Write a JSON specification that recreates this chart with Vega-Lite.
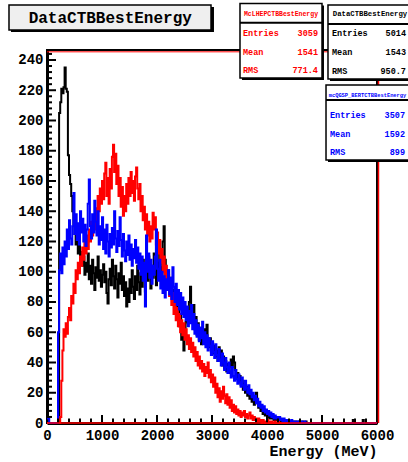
{
"$schema": "https://vega.github.io/schema/vega-lite/v6.json",
"width": 330, "height": 373,
"autosize": {"type": "none"},
"padding": {"left": 47, "top": 50, "right": 31, "bottom": 39},
"background": "white",
"config": {"view": {"stroke": "black", "strokeWidth": 2}, "font": "Liberation Mono"},
"resolve": {"axis": {"x": "independent", "y": "independent"}},
"data": {"values": [
{"e":0,"k":0,"r":0,"b":4},{"e":20,"k":0,"r":0,"b":3},{"e":40,"k":0,"r":0,"b":0},{"e":60,"k":0,"r":0,"b":0},{"e":80,"k":0,"r":0,"b":0},{"e":100,"k":0,"r":0,"b":0},{"e":120,"k":0,"r":0,"b":0},{"e":140,"k":0,"r":0,"b":0},{"e":160,"k":0,"r":0,"b":0},{"e":180,"k":0,"r":0,"b":0},
{"e":200,"k":0,"r":0,"b":60},{"e":220,"k":205,"r":0,"b":101},{"e":240,"k":212,"r":4,"b":112},{"e":260,"k":221,"r":28,"b":99},{"e":280,"k":218,"r":48,"b":116},{"e":300,"k":222,"r":62,"b":105},{"e":320,"k":235,"r":57,"b":120},{"e":340,"k":221,"r":66,"b":110},{"e":360,"k":219,"r":59,"b":128},{"e":380,"k":177,"r":70,"b":115},
{"e":400,"k":164,"r":76,"b":134},{"e":420,"k":158,"r":68,"b":122},{"e":440,"k":150,"r":84,"b":118},{"e":460,"k":140,"r":79,"b":130},{"e":480,"k":131,"r":92,"b":152},{"e":500,"k":125,"r":86,"b":125},{"e":520,"k":118,"r":101,"b":138},{"e":540,"k":122,"r":95,"b":121},{"e":560,"k":112,"r":106,"b":132},{"e":580,"k":117,"r":99,"b":118},
{"e":600,"k":108,"r":110,"b":140},{"e":620,"k":113,"r":104,"b":126},{"e":640,"k":104,"r":116,"b":135},{"e":660,"k":110,"r":108,"b":120},{"e":680,"k":98,"r":120,"b":131},{"e":700,"k":106,"r":112,"b":117},{"e":720,"k":100,"r":124,"b":128},{"e":740,"k":112,"r":115,"b":145},{"e":760,"k":95,"r":128,"b":161},{"e":780,"k":104,"r":120,"b":130},
{"e":800,"k":92,"r":133,"b":122},{"e":820,"k":108,"r":124,"b":138},{"e":840,"k":99,"r":137,"b":126},{"e":860,"k":88,"r":128,"b":147},{"e":880,"k":103,"r":142,"b":133},{"e":900,"k":96,"r":133,"b":124},{"e":920,"k":110,"r":150,"b":140},{"e":940,"k":94,"r":140,"b":118},{"e":960,"k":101,"r":155,"b":130},{"e":980,"k":90,"r":145,"b":121},
{"e":1000,"k":98,"r":160,"b":136},{"e":1020,"k":105,"r":148,"b":115},{"e":1040,"k":93,"r":165,"b":128},{"e":1060,"k":100,"r":172,"b":112},{"e":1080,"k":86,"r":150,"b":131},{"e":1100,"k":79,"r":162,"b":120},{"e":1120,"k":95,"r":145,"b":110},{"e":1140,"k":102,"r":168,"b":125},{"e":1160,"k":91,"r":155,"b":116},{"e":1180,"k":108,"r":176,"b":129},
{"e":1200,"k":97,"r":184,"b":118},{"e":1220,"k":89,"r":166,"b":140},{"e":1240,"k":104,"r":178,"b":122},{"e":1260,"k":95,"r":158,"b":113},{"e":1280,"k":83,"r":170,"b":127},{"e":1300,"k":99,"r":150,"b":117},{"e":1320,"k":92,"r":162,"b":136},{"e":1340,"k":106,"r":143,"b":121},{"e":1360,"k":88,"r":156,"b":110},{"e":1380,"k":97,"r":137,"b":125},
{"e":1400,"k":84,"r":150,"b":114},{"e":1420,"k":93,"r":140,"b":107},{"e":1440,"k":77,"r":158,"b":120},{"e":1460,"k":89,"r":145,"b":111},{"e":1480,"k":80,"r":162,"b":124},{"e":1500,"k":95,"r":150,"b":108},{"e":1520,"k":86,"r":166,"b":118},{"e":1540,"k":101,"r":152,"b":104},{"e":1560,"k":90,"r":160,"b":115},{"e":1580,"k":82,"r":147,"b":109},
{"e":1600,"k":97,"r":163,"b":121},{"e":1620,"k":88,"r":169,"b":106},{"e":1640,"k":104,"r":155,"b":116},{"e":1660,"k":93,"r":148,"b":102},{"e":1680,"k":85,"r":158,"b":112},{"e":1700,"k":99,"r":140,"b":98},{"e":1720,"k":90,"r":150,"b":110},{"e":1740,"k":108,"r":134,"b":94},{"e":1760,"k":96,"r":143,"b":106},{"e":1780,"k":87,"r":128,"b":77},
{"e":1800,"k":102,"r":138,"b":124},{"e":1820,"k":94,"r":124,"b":100},{"e":1840,"k":110,"r":133,"b":112},{"e":1860,"k":98,"r":120,"b":96},{"e":1880,"k":89,"r":130,"b":108},{"e":1900,"k":104,"r":122,"b":92},{"e":1920,"k":96,"r":139,"b":104},{"e":1940,"k":112,"r":128,"b":98},{"e":1960,"k":100,"r":136,"b":110},{"e":1980,"k":91,"r":118,"b":128},
{"e":2000,"k":106,"r":126,"b":102},{"e":2020,"k":97,"r":112,"b":94},{"e":2040,"k":115,"r":121,"b":108},{"e":2060,"k":103,"r":106,"b":89},{"e":2080,"k":94,"r":115,"b":100},{"e":2100,"k":120,"r":100,"b":86},{"e":2120,"k":130,"r":110,"b":97},{"e":2140,"k":108,"r":95,"b":83},{"e":2160,"k":98,"r":104,"b":95},{"e":2180,"k":88,"r":90,"b":88},
{"e":2200,"k":101,"r":98,"b":101},{"e":2220,"k":92,"r":84,"b":85},{"e":2240,"k":84,"r":92,"b":96},{"e":2260,"k":96,"r":78,"b":82},{"e":2280,"k":79,"r":86,"b":103},{"e":2300,"k":88,"r":72,"b":90},{"e":2320,"k":75,"r":80,"b":80},{"e":2340,"k":84,"r":68,"b":92},{"e":2360,"k":70,"r":76,"b":78},{"e":2380,"k":78,"r":64,"b":88},
{"e":2400,"k":64,"r":72,"b":75},{"e":2420,"k":72,"r":60,"b":86},{"e":2440,"k":55,"r":68,"b":72},{"e":2460,"k":62,"r":58,"b":83},{"e":2480,"k":48,"r":66,"b":70},{"e":2500,"k":60,"r":55,"b":80},{"e":2520,"k":67,"r":62,"b":68},{"e":2540,"k":74,"r":52,"b":77},{"e":2560,"k":66,"r":58,"b":64},{"e":2580,"k":80,"r":49,"b":74},
{"e":2600,"k":90,"r":56,"b":66},{"e":2620,"k":74,"r":47,"b":78},{"e":2640,"k":68,"r":53,"b":62},{"e":2660,"k":78,"r":44,"b":72},{"e":2680,"k":62,"r":50,"b":59},{"e":2700,"k":70,"r":41,"b":68},{"e":2720,"k":58,"r":47,"b":57},{"e":2740,"k":66,"r":38,"b":65},{"e":2760,"k":55,"r":44,"b":54},{"e":2780,"k":63,"r":36,"b":63},
{"e":2800,"k":52,"r":41,"b":56},{"e":2820,"k":60,"r":34,"b":67},{"e":2840,"k":54,"r":39,"b":52},{"e":2860,"k":62,"r":31,"b":60},{"e":2880,"k":57,"r":37,"b":50},{"e":2900,"k":65,"r":33,"b":58},{"e":2920,"k":55,"r":40,"b":48},{"e":2940,"k":50,"r":30,"b":56},{"e":2960,"k":56,"r":35,"b":51},{"e":2980,"k":47,"r":27,"b":45},
{"e":3000,"k":53,"r":32,"b":54},{"e":3020,"k":46,"r":24,"b":47},{"e":3040,"k":51,"r":30,"b":43},{"e":3060,"k":44,"r":20,"b":52},{"e":3080,"k":48,"r":26,"b":45},{"e":3100,"k":41,"r":17,"b":41},{"e":3120,"k":50,"r":23,"b":49},{"e":3140,"k":43,"r":14,"b":42},{"e":3160,"k":48,"r":21,"b":38},{"e":3180,"k":38,"r":16,"b":46},
{"e":3200,"k":44,"r":24,"b":40},{"e":3220,"k":36,"r":18,"b":35},{"e":3240,"k":41,"r":13,"b":43},{"e":3260,"k":34,"r":19,"b":37},{"e":3280,"k":39,"r":12,"b":33},{"e":3300,"k":33,"r":17,"b":40},{"e":3320,"k":38,"r":10,"b":34},{"e":3340,"k":42,"r":15,"b":30},{"e":3360,"k":37,"r":8,"b":37},{"e":3380,"k":44,"r":12,"b":31},
{"e":3400,"k":40,"r":7,"b":28},{"e":3420,"k":35,"r":11,"b":35},{"e":3440,"k":30,"r":6,"b":29},{"e":3460,"k":33,"r":9,"b":26},{"e":3480,"k":27,"r":5,"b":32},{"e":3500,"k":31,"r":8,"b":27},{"e":3520,"k":25,"r":4,"b":24},{"e":3540,"k":28,"r":7,"b":30},{"e":3560,"k":22,"r":5,"b":25},{"e":3580,"k":26,"r":8,"b":22},
{"e":3600,"k":20,"r":4,"b":28},{"e":3620,"k":24,"r":6,"b":23},{"e":3640,"k":18,"r":3,"b":20},{"e":3660,"k":21,"r":5,"b":25},{"e":3680,"k":16,"r":7,"b":19},{"e":3700,"k":19,"r":3,"b":22},{"e":3720,"k":14,"r":5,"b":17},{"e":3740,"k":17,"r":2,"b":20},{"e":3760,"k":12,"r":4,"b":15},{"e":3780,"k":15,"r":2,"b":18},
{"e":3800,"k":20,"r":3,"b":13},{"e":3820,"k":13,"r":1,"b":16},{"e":3840,"k":10,"r":3,"b":11},{"e":3860,"k":12,"r":1,"b":14},{"e":3880,"k":8,"r":2,"b":10},{"e":3900,"k":10,"r":0,"b":12},{"e":3920,"k":6,"r":2,"b":8},{"e":3940,"k":9,"r":1,"b":11},{"e":3960,"k":5,"r":0,"b":7},{"e":3980,"k":8,"r":1,"b":9},
{"e":4000,"k":4,"r":2,"b":6},{"e":4020,"k":7,"r":0,"b":8},{"e":4040,"k":3,"r":1,"b":5},{"e":4060,"k":6,"r":0,"b":7},{"e":4080,"k":3,"r":1,"b":4},{"e":4100,"k":5,"r":0,"b":6},{"e":4120,"k":2,"r":0,"b":3},{"e":4140,"k":4,"r":1,"b":5},{"e":4160,"k":2,"r":0,"b":3},{"e":4180,"k":3,"r":0,"b":4},
{"e":4200,"k":1,"r":1,"b":2},{"e":4220,"k":3,"r":0,"b":4},{"e":4240,"k":1,"r":0,"b":2},{"e":4260,"k":2,"r":0,"b":3},{"e":4280,"k":1,"r":0,"b":1},{"e":4300,"k":2,"r":0,"b":3},{"e":4320,"k":0,"r":0,"b":1},{"e":4340,"k":1,"r":0,"b":2},{"e":4360,"k":2,"r":0,"b":1},{"e":4380,"k":0,"r":0,"b":2},
{"e":4400,"k":1,"r":0,"b":0},{"e":4420,"k":0,"r":0,"b":1},{"e":4440,"k":1,"r":0,"b":2},{"e":4460,"k":0,"r":0,"b":0},{"e":4480,"k":1,"r":0,"b":1},{"e":4500,"k":0,"r":0,"b":1},{"e":4520,"k":1,"r":0,"b":0},{"e":4540,"k":0,"r":0,"b":1},{"e":4560,"k":0,"r":0,"b":0},{"e":4580,"k":1,"r":0,"b":1},
{"e":4600,"k":0,"r":0,"b":0},{"e":4620,"k":0,"r":0,"b":1},{"e":4640,"k":1,"r":0,"b":0},{"e":4660,"k":0,"r":0,"b":0},{"e":4680,"k":0,"r":0,"b":1},{"e":4700,"k":1,"r":0,"b":0},{"e":4720,"k":0,"r":0,"b":0},
{"e":5560,"k":2,"r":0,"b":0},{"e":5580,"k":0,"r":0,"b":0},{"e":5740,"k":2,"r":0,"b":0},{"e":5760,"k":0,"r":0,"b":0},{"e":6000,"k":0,"r":0,"b":0}
]},
"layer": [
{"mark": {"type": "line", "interpolate": "step-after", "color": "black", "strokeWidth": 2},
 "encoding": {
  "x": {"field": "e", "type": "quantitative", "scale": {"domain": [0, 6000], "nice": false, "zero": false},
   "axis": {"orient": "bottom", "title": "Energy (MeV)", "titleAnchor": "end", "titleAlign": "right", "titleFont": "Liberation Mono", "titleFontSize": 15, "titleFontWeight": "bold", "titleColor": "black", "titlePadding": 1,
    "values": [0,1000,2000,3000,4000,5000,6000], "format": "d",
    "labelFont": "Liberation Mono", "labelFontSize": 14, "labelFontWeight": "bold", "labelColor": "black", "labelPadding": 5, "labelFlush": false, "labelOverlap": false,
    "ticks": false, "domainColor": "black", "domainWidth": 3, "grid": false}},
  "y": {"field": "k", "type": "quantitative", "scale": {"domain": [0, 246.6], "nice": false, "zero": false},
   "axis": {"orient": "left", "title": null,
    "values": [0,20,40,60,80,100,120,140,160,180,200,220,240], "format": "d",
    "labelFont": "Liberation Mono", "labelFontSize": 14, "labelFontWeight": "bold", "labelColor": "black", "labelPadding": 4, "labelFlush": false, "labelOverlap": false,
    "ticks": false, "domainColor": "black", "domainWidth": 3, "grid": false}}
 }},
{"mark": {"type": "line", "interpolate": "step-after", "color": "#ff0000", "strokeWidth": 2},
 "encoding": {"x": {"field": "e", "type": "quantitative", "axis": null}, "y": {"field": "r", "type": "quantitative", "axis": null}}},
{"mark": {"type": "line", "interpolate": "step-after", "color": "#0000ff", "strokeWidth": 2},
 "encoding": {"x": {"field": "e", "type": "quantitative", "axis": null}, "y": {"field": "b", "type": "quantitative", "axis": null}}},
{"data": {"values": [{"v":20},{"v":40},{"v":60},{"v":80},{"v":100},{"v":120},{"v":140},{"v":160},{"v":180},{"v":200},{"v":220},{"v":240}]},
 "mark": {"type": "rule", "stroke": "black", "strokeWidth": 2},
 "encoding": {"y": {"field": "v", "type": "quantitative", "axis": null}, "x": {"datum": 0, "axis": null}, "x2": {"datum": 164}}},
{"data": {"values": [{"v":4},{"v":8},{"v":12},{"v":16},{"v":24},{"v":28},{"v":32},{"v":36},{"v":44},{"v":48},{"v":52},{"v":56},{"v":64},{"v":68},{"v":72},{"v":76},{"v":84},{"v":88},{"v":92},{"v":96},{"v":104},{"v":108},{"v":112},{"v":116},{"v":124},{"v":128},{"v":132},{"v":136},{"v":144},{"v":148},{"v":152},{"v":156},{"v":164},{"v":168},{"v":172},{"v":176},{"v":184},{"v":188},{"v":192},{"v":196},{"v":204},{"v":208},{"v":212},{"v":216},{"v":224},{"v":228},{"v":232},{"v":236},{"v":244}]},
 "mark": {"type": "rule", "stroke": "black", "strokeWidth": 2},
 "encoding": {"y": {"field": "v", "type": "quantitative", "axis": null}, "x": {"datum": 0, "axis": null}, "x2": {"datum": 91}}},
{"data": {"values": [{"v":1000},{"v":2000},{"v":3000},{"v":4000},{"v":5000}]},
 "mark": {"type": "rule", "stroke": "black", "strokeWidth": 2},
 "encoding": {"x": {"field": "v", "type": "quantitative", "axis": null}, "y": {"datum": 0, "axis": null}, "y2": {"datum": 5.3}}},
{"data": {"values": [{"v":200},{"v":400},{"v":600},{"v":800},{"v":1200},{"v":1400},{"v":1600},{"v":1800},{"v":2200},{"v":2400},{"v":2600},{"v":2800},{"v":3200},{"v":3400},{"v":3600},{"v":3800},{"v":4200},{"v":4400},{"v":4600},{"v":4800},{"v":5200},{"v":5400},{"v":5600},{"v":5800}]},
 "mark": {"type": "rule", "stroke": "black", "strokeWidth": 2},
 "encoding": {"x": {"field": "v", "type": "quantitative", "axis": null}, "y": {"datum": 0, "axis": null}, "y2": {"datum": 3.0}}},
{"data": {"values": [{}]}, "mark": {"type": "rule", "color": "#ff0000", "strokeWidth": 1.5},
 "encoding": {"x": {"datum": 0, "axis": null}, "x2": {"datum": 6000}, "y": {"datum": 0, "axis": null}}},
{"data": {"values": [{}]}, "mark": {"type": "rule", "color": "#ff0000", "strokeWidth": 1},
 "encoding": {"x": {"datum": 0, "axis": null}, "x2": {"datum": 6000}, "y": {"datum": 245.4, "axis": null}}},
{"data": {"values": [{}]}, "mark": {"type": "rule", "color": "#ff0000", "strokeWidth": 1.5},
 "encoding": {"x": {"datum": 6027, "axis": null}, "y": {"datum": 0, "axis": null}, "y2": {"datum": 246.6}}},

{"data": {"values": [{}]}, "mark": {"type": "rect", "color": "black"},
 "encoding": {"x": {"datum": -655, "axis": null}, "x2": {"datum": 3036}, "y": {"datum": 275.0, "axis": null}, "y2": {"datum": 258.5}}},
{"data": {"values": [{}]}, "mark": {"type": "rect", "fill": "#efefef", "stroke": "black", "strokeWidth": 1.5},
 "encoding": {"x": {"datum": -691, "axis": null}, "x2": {"datum": 2982}, "y": {"datum": 276.3, "axis": null}, "y2": {"datum": 259.8}}},
{"data": {"values": [{}]}, "mark": {"type": "text", "text": "DataCTBBestEnergy", "font": "Liberation Mono", "fontSize": 16, "fontWeight": "bold", "color": "black", "align": "center", "baseline": "middle"},
 "encoding": {"x": {"datum": 1150, "axis": null}, "y": {"datum": 267.8, "axis": null}}},

{"data": {"values": [{}]}, "mark": {"type": "rect", "color": "black"},
 "encoding": {"x": {"datum": 3545, "axis": null}, "x2": {"datum": 5036}, "y": {"datum": 276.0, "axis": null}, "y2": {"datum": 226.8}}},
{"data": {"values": [{}]}, "mark": {"type": "rect", "fill": "white", "stroke": "black", "strokeWidth": 1.5},
 "encoding": {"x": {"datum": 3509, "axis": null}, "x2": {"datum": 5000}, "y": {"datum": 277.3, "axis": null}, "y2": {"datum": 228.1}}},
{"data": {"values": [{}]}, "mark": {"type": "rule", "color": "black", "strokeWidth": 2},
 "encoding": {"x": {"datum": 3509, "axis": null}, "x2": {"datum": 5000}, "y": {"datum": 264.6, "axis": null}}},
{"data": {"values": [{}]}, "mark": {"type": "text", "text": "McLHEPCTBBestEnergy", "font": "Liberation Mono", "fontSize": 6.5, "fontWeight": "bold", "color": "#ff0000", "align": "center", "baseline": "middle"},
 "encoding": {"x": {"datum": 4255, "axis": null}, "y": {"datum": 270.4, "axis": null}}},
{"data": {"values": [{}]}, "mark": {"type": "text", "text": ["Entries", "Mean", "RMS"], "lineHeight": 18.5, "font": "Liberation Mono", "fontSize": 8.5, "fontWeight": "bold", "color": "#ff0000", "align": "left", "baseline": "middle"},
 "encoding": {"x": {"datum": 3564, "axis": null}, "y": {"datum": 257.8, "axis": null}}},
{"data": {"values": [{}]}, "mark": {"type": "text", "text": ["3059", "1541", "771.4"], "lineHeight": 18.5, "font": "Liberation Mono", "fontSize": 8.5, "fontWeight": "bold", "color": "#ff0000", "align": "right", "baseline": "middle"},
 "encoding": {"x": {"datum": 4927, "axis": null}, "y": {"datum": 257.8, "axis": null}}},

{"data": {"values": [{}]}, "mark": {"type": "rect", "color": "black"},
 "encoding": {"x": {"datum": 5145, "axis": null}, "x2": {"datum": 6650}, "y": {"datum": 275.0, "axis": null}, "y2": {"datum": 226.1}}},
{"data": {"values": [{}]}, "mark": {"type": "rect", "fill": "white", "stroke": "black", "strokeWidth": 1.5},
 "encoding": {"x": {"datum": 5109, "axis": null}, "x2": {"datum": 6620}, "y": {"datum": 276.3, "axis": null}, "y2": {"datum": 227.4}}},
{"data": {"values": [{}]}, "mark": {"type": "rule", "color": "black", "strokeWidth": 2},
 "encoding": {"x": {"datum": 5109, "axis": null}, "x2": {"datum": 6620}, "y": {"datum": 263.8, "axis": null}}},
{"data": {"values": [{}]}, "mark": {"type": "text", "text": "DataCTBBestEnergy", "font": "Liberation Mono", "fontSize": 7.3, "fontWeight": "bold", "color": "black", "align": "center", "baseline": "middle"},
 "encoding": {"x": {"datum": 5873, "axis": null}, "y": {"datum": 270.2, "axis": null}}},
{"data": {"values": [{}]}, "mark": {"type": "text", "text": ["Entries", "Mean", "RMS"], "lineHeight": 18.7, "font": "Liberation Mono", "fontSize": 8.5, "fontWeight": "bold", "color": "black", "align": "left", "baseline": "middle"},
 "encoding": {"x": {"datum": 5182, "axis": null}, "y": {"datum": 257.6, "axis": null}}},
{"data": {"values": [{}]}, "mark": {"type": "text", "text": ["5014", "1543", "950.7"], "lineHeight": 18.7, "font": "Liberation Mono", "fontSize": 8.5, "fontWeight": "bold", "color": "black", "align": "right", "baseline": "middle"},
 "encoding": {"x": {"datum": 6527, "axis": null}, "y": {"datum": 257.6, "axis": null}}},

{"data": {"values": [{}]}, "mark": {"type": "rect", "color": "black"},
 "encoding": {"x": {"datum": 5109, "axis": null}, "x2": {"datum": 6650}, "y": {"datum": 222.1, "axis": null}, "y2": {"datum": 172.6}}},
{"data": {"values": [{}]}, "mark": {"type": "rect", "fill": "white", "stroke": "black", "strokeWidth": 1.5},
 "encoding": {"x": {"datum": 5073, "axis": null}, "x2": {"datum": 6620}, "y": {"datum": 223.5, "axis": null}, "y2": {"datum": 173.9}}},
{"data": {"values": [{}]}, "mark": {"type": "rule", "color": "black", "strokeWidth": 2},
 "encoding": {"x": {"datum": 5073, "axis": null}, "x2": {"datum": 6620}, "y": {"datum": 213.5, "axis": null}}},
{"data": {"values": [{}]}, "mark": {"type": "text", "text": "mcQGSP_BERTCTBBestEnergy", "font": "Liberation Mono", "fontSize": 5.4, "fontWeight": "bold", "color": "#0000ff", "align": "center", "baseline": "middle"},
 "encoding": {"x": {"datum": 5827, "axis": null}, "y": {"datum": 216.7, "axis": null}}},
{"data": {"values": [{}]}, "mark": {"type": "text", "text": ["Entries", "Mean", "RMS"], "lineHeight": 18.8, "font": "Liberation Mono", "fontSize": 8.5, "fontWeight": "bold", "color": "#0000ff", "align": "left", "baseline": "middle"},
 "encoding": {"x": {"datum": 5145, "axis": null}, "y": {"datum": 203.8, "axis": null}}},
{"data": {"values": [{}]}, "mark": {"type": "text", "text": ["3507", "1592", "899"], "lineHeight": 18.8, "font": "Liberation Mono", "fontSize": 8.5, "fontWeight": "bold", "color": "#0000ff", "align": "right", "baseline": "middle"},
 "encoding": {"x": {"datum": 6509, "axis": null}, "y": {"datum": 203.8, "axis": null}}}
]
}
